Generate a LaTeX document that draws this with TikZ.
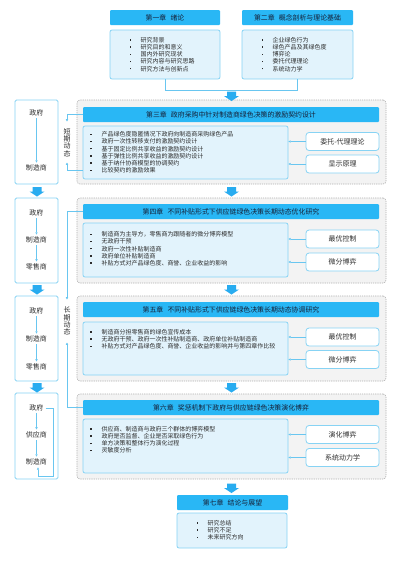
\documentclass[tikz,border=0pt]{standalone}
\usepackage{fontspec}
\setmainfont{Noto Sans CJK SC}
\usetikzlibrary{arrows.meta,calc}
\definecolor{hdrc}{RGB}{41,183,245}
\definecolor{hdrtext}{RGB}{22,32,55}
\definecolor{bodyfill}{RGB}{226,243,252}
\definecolor{bodyline}{RGB}{135,211,244}
\definecolor{linec}{RGB}{105,198,240}
\definecolor{fatc}{RGB}{40,172,240}
\definecolor{contfill}{RGB}{243,243,243}
\definecolor{contline}{RGB}{175,175,175}
\definecolor{txt}{RGB}{45,45,45}
\newcommand\bul{\makebox[11pt][l]{\raisebox{1.7pt}{\rule{1.4pt}{1.4pt}}}}
\newcommand\myfat[2]{\fill[fatc] (#1-4.5,#2) -- (#1+4.5,#2) -- (#1+4.5,#2+4.5) -- (#1+7.5,#2+4.5) -- (#1,#2+9.5) -- (#1-7.5,#2+4.5) -- (#1-4.5,#2+4.5) -- cycle;}
\begin{document}
\begin{tikzpicture}[x=1pt,y=-1pt,
  hdr/.style={rectangle, fill=hdrc, rounded corners=1pt, inner sep=0pt, text=hdrtext, font=\fontsize{6.9}{8}\selectfont},
  bodybox/.style={rectangle, fill=bodyfill, draw=bodyline, line width=0.8pt, rounded corners=2pt, inner sep=0pt},
  rbox/.style={rectangle, fill=white, draw=bodyline, line width=0.8pt, rounded corners=3pt, inner sep=0pt, minimum width=73pt, minimum height=18pt, text=txt, font=\fontsize{7}{8}\selectfont},
  cont/.style={rectangle, fill=contfill, draw=contline, line width=0.6pt, dash pattern=on 1.2pt off 1pt, rounded corners=3pt, inner sep=0pt, minimum width=309pt},
  lpanel/.style={rectangle, fill=white, draw=bodyline, line width=0.8pt, rounded corners=1.5pt, inner sep=0pt, minimum width=43pt},
  btext/.style={anchor=north west, inner sep=0pt, align=left, text=txt, font=\fontsize{6}{7.2}\selectfont},
  ltext/.style={inner sep=2pt, text=txt, font=\fontsize{7}{8}\selectfont},
  vtext/.style={inner sep=0pt, align=center, text=txt, font=\fontsize{7}{7.2}\selectfont},
  conn/.style={draw=linec, line width=0.6pt, -{Triangle[length=2.3pt,width=2.3pt]}},
  plain/.style={draw=linec, line width=0.8pt}
]
\useasboundingbox[fill=white] (0,0) rectangle (400,566);

% ---- top chapters
\node[hdr, minimum width=110pt, minimum height=15pt] (h1) at (165,17.5) {第一章\hspace{0.6em}绪论};
\node[bodybox, minimum width=110pt, minimum height=49pt] (b1) at (165,54.5) {};
\node[btext] (t1) at (129.3,37) {\bul 研究背景\\\bul 研究目的和意义\\\bul 国内外研究现状\\\bul 研究内容与研究思路\\\bul 研究方法与创新点};
\node[hdr, minimum width=111pt, minimum height=15pt] (h2) at (297.5,17.5) {第二章\hspace{0.6em}概念剖析与理论基础};
\node[bodybox, minimum width=111pt, minimum height=49pt] (b2) at (297.5,54.5) {};
\node[btext] (t2) at (261.3,37) {\bul 企业绿色行为\\\bul 绿色产品及其绿色度\\\bul 博弈论\\\bul 委托代理理论\\\bul 系统动力学};
\draw[plain] (b1.south) -- ++(0,11) -| (b2.south);

% ---- containers
\node[cont, minimum height=84pt] (c3) at (231.5,142) {};
\node[cont, minimum height=85pt] (c4) at (231.5,240.5) {};
\node[cont, minimum height=85pt] (c5) at (231.5,338.5) {};
\node[cont, minimum height=85pt] (c6) at (231.5,436.5) {};

% ---- chapter 3
\node[hdr, minimum width=296pt, minimum height=15pt] (h3) at (231,114.5) {第三章\hspace{0.6em}政府采购中针对制造商绿色决策的激励契约设计};
\node[bodybox, minimum width=205pt, minimum height=53pt] (b3) at (185.5,152.5) {};
\node[btext] (t3) at (90.3,131.3) {\bul 产品绿色度隐匿情况下政府向制造商采购绿色产品\\\bul 政府一次性转移支付的激励契约设计\\\bul 基于固定比例共享收益的激励契约设计\\\bul 基于弹性比例共享收益的激励契约设计\\\bul 基于纳什协商模型的协调契约\\\bul 比较契约的激励效果};
\node[rbox] (r3a) at (342.5,141.5) {委托-代理理论};
\node[rbox] (r3b) at (342.5,164) {显示原理};
\draw[conn] (r3a.west) -- (r3a.west -| b3.east);
\draw[conn] (r3b.west) -- (r3b.west -| b3.east);

% ---- chapter 4
\node[hdr, minimum width=296pt, minimum height=15pt] (h4) at (231,211.5) {第四章\hspace{0.6em}不同补贴形式下供应链绿色决策长期动态优化研究};
\node[bodybox, minimum width=205pt, minimum height=54pt] (b4) at (185.5,250) {};
\node[btext] (t4) at (90.3,231.3) {\bul 制造商为主导方，零售商为跟随者的微分博弈模型\\\bul 无政府干预\\\bul 政府一次性补贴制造商\\\bul 政府单位补贴制造商\\\bul 补贴方式对产品绿色度、商誉、企业收益的影响};
\node[rbox] (r4a) at (342.5,239) {最优控制};
\node[rbox] (r4b) at (342.5,262) {微分博弈};
\draw[conn] (r4a.west) -- (r4a.west -| b4.east);
\draw[conn] (r4b.west) -- (r4b.west -| b4.east);

% ---- chapter 5
\node[hdr, minimum width=296pt, minimum height=15pt] (h5) at (231,309.5) {第五章\hspace{0.6em}不同补贴形式下供应链绿色决策长期动态协调研究};
\node[bodybox, minimum width=205pt, minimum height=53pt] (b5) at (185.5,348.5) {};
\node[btext] (t5) at (90.3,329) {\bul 制造商分担零售商的绿色宣传成本\\\bul 无政府干预、政府一次性补贴制造商、政府单位补贴制造商\\\bul 补贴方式对产品绿色度、商誉、企业收益的影响并与第四章作比较};
\node[rbox] (r5a) at (342.5,337) {最优控制};
\node[rbox] (r5b) at (342.5,359.5) {微分博弈};
\draw[conn] (r5a.west) -- (r5a.west -| b5.east);
\draw[conn] (r5b.west) -- (r5b.west -| b5.east);

% ---- chapter 6
\node[hdr, minimum width=296pt, minimum height=15pt] (h6) at (231,407.5) {第六章\hspace{0.6em}奖惩机制下政府与供应链绿色决策演化博弈};
\node[bodybox, minimum width=205pt, minimum height=54pt] (b6) at (185.5,446) {};
\node[btext] (t6) at (90.3,426) {\bul 供应商、制造商与政府三个群体的博弈模型\\\bul 政府是否监督、企业是否采取绿色行为\\\bul 单方决策和整体行为演化过程\\\bul 灵敏度分析};
\node[rbox] (r6a) at (342.5,434.5) {演化博弈};
\node[rbox] (r6b) at (342.5,457.5) {系统动力学};
\draw[conn] (r6a.west) -- (r6a.west -| b6.east);
\draw[conn] (r6b.west) -- (r6b.west -| b6.east);

% ---- chapter 7
\node[hdr, minimum width=111pt, minimum height=15pt] (h7) at (232.5,502.5) {第七章\hspace{0.6em}结论与展望};
\node[bodybox, minimum width=110pt, minimum height=35pt] (b7) at (232,530.5) {};
\node[btext] (t7) at (196.3,520) {\bul 研究总结\\\bul 研究不足\\\bul 未来研究方向};

% ---- main fat arrows
\myfat{231.5}{91.5}
\myfat{231.5}{187}
\myfat{231.5}{285}
\myfat{231.5}{383}
\myfat{231.5}{483.5}

% ---- left panels
\node[lpanel, minimum height=84pt] (l3) at (36.5,142) {};
\node[lpanel, minimum height=85pt] (l4) at (36.5,240.5) {};
\node[lpanel, minimum height=85pt] (l5) at (36.5,338.5) {};
\node[lpanel, minimum height=86pt] (l6) at (36.5,436) {};
\myfat{37}{187}
\myfat{37}{285}
\myfat{37}{383}

\node[ltext] (l3a) at (36.5,113) {政府};
\node[ltext] (l3b) at (36.5,168) {制造商};
\draw[conn] (l3a) -- (l3b);

\node[ltext] (l4a) at (36.5,213) {政府};
\node[ltext] (l4b) at (36.5,240) {制造商};
\node[ltext] (l4c) at (36.5,267) {零售商};
\draw[conn] (l4a) -- (l4b);
\draw[conn] (l4b) -- (l4c);

\node[ltext] (l5a) at (36.5,311) {政府};
\node[ltext] (l5b) at (36.5,339) {制造商};
\node[ltext] (l5c) at (36.5,367) {零售商};
\draw[conn] (l5a) -- (l5b);
\draw[conn] (l5b) -- (l5c);

\node[ltext] (l6a) at (36.5,408) {政府};
\node[ltext] (l6b) at (36.5,435) {供应商};
\node[ltext] (l6c) at (36.5,462) {制造商};
\draw[conn] (l6a) -- (l6b);
\draw[conn] (l6b) -- (l6c);
\coordinate (lp) at (53.5,476);
\draw[conn] (l6a.east) -| (lp) -| ([xshift=1.5pt]l6c.south);

% ---- short / long term brackets
\node[vtext] (st) at (67,142.5) {短\\期\\动\\态};
\coordinate (sa) at (67,121.5);
\coordinate (sb) at (67,162.5);
\draw[conn] (h3.west) -| (sa);
\draw[conn] (b3.west |- 0,170) -| (sb);

\node[vtext] (lt) at (67,321) {长\\期\\动\\态};
\coordinate (la) at (67,299.5);
\coordinate (lb) at (67,342.5);
\draw[conn] (h4.west) -| (la);
\draw[conn] (h6.west) -| (lb);
\end{tikzpicture}
\end{document}
